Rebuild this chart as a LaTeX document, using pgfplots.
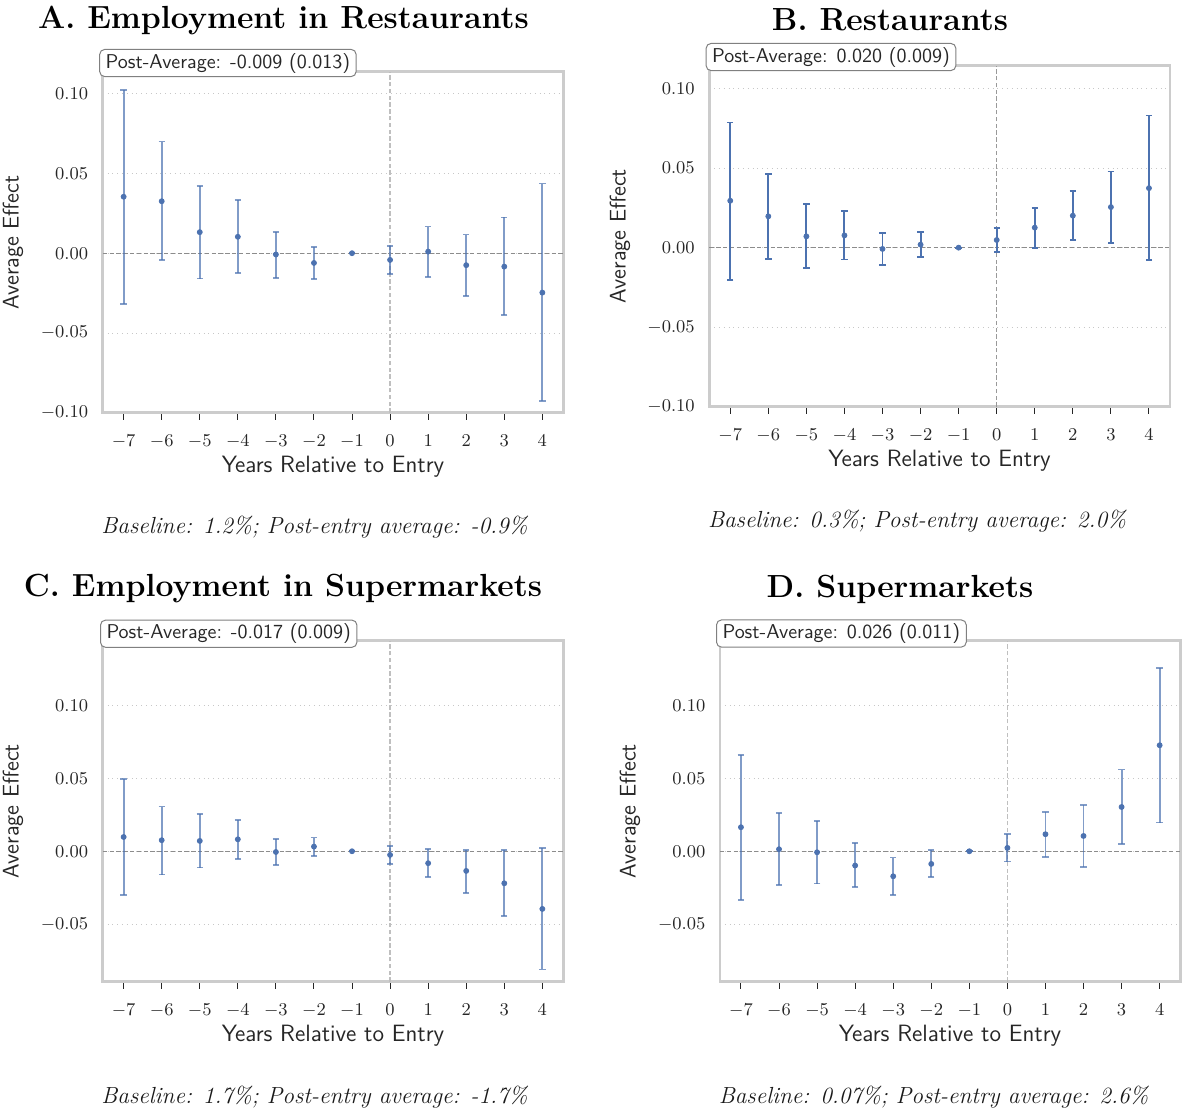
\documentclass[border=0pt]{standalone}
\usepackage{fontspec}
\usepackage{pgfplots}
\usepackage{pgfplotstable}
\pgfplotsset{compat=1.18}
\definecolor{bl}{HTML}{4C72B0}
\definecolor{txt}{HTML}{262626}

\pgfplotstableread{
x y hi lo
-7 0.0354 0.1025 -0.0320
-6 0.0326 0.0700 -0.0044
-5 0.0132 0.0423 -0.0159
-4 0.0103 0.0333 -0.0126
-3 -0.0008 0.0134 -0.0153
-2 -0.0061 0.0040 -0.0161
-1 0 0 0
0 -0.0042 0.0046 -0.0130
1 0.0010 0.0167 -0.0149
2 -0.0075 0.0117 -0.0268
3 -0.0084 0.0224 -0.0389
4 -0.0247 0.0437 -0.0929
}\tabA
\pgfplotstableread{
x y hi lo
-7 0.0295 0.0787 -0.0201
-6 0.0197 0.0462 -0.0069
-5 0.0071 0.0272 -0.0130
-4 0.0077 0.0232 -0.0075
-3 -0.0008 0.0092 -0.0111
-2 0.0019 0.0096 -0.0059
-1 0 0 0
0 0.0048 0.0123 -0.0027
1 0.0126 0.0251 0.0000
2 0.0201 0.0356 0.0048
3 0.0255 0.0479 0.0031
4 0.0374 0.0831 -0.0079
}\tabB
\pgfplotstableread{
x y hi lo
-7 0.0098 0.0497 -0.0302
-6 0.0076 0.0307 -0.0160
-5 0.0071 0.0254 -0.0112
-4 0.0082 0.0217 -0.0055
-3 -0.0005 0.0082 -0.0094
-2 0.0032 0.0094 -0.0030
-1 0 0 0
0 -0.0025 0.0034 -0.0087
1 -0.0082 0.0014 -0.0178
2 -0.0135 0.0011 -0.0284
3 -0.0220 0.0007 -0.0446
4 -0.0396 0.0021 -0.0812
}\tabC
\pgfplotstableread{
x y hi lo
-7 0.0165 0.0661 -0.0334
-6 0.0014 0.0261 -0.0231
-5 -0.0007 0.0208 -0.0222
-4 -0.0098 0.0055 -0.0247
-3 -0.0172 -0.0043 -0.0300
-2 -0.0087 0.0007 -0.0176
-1 0 0 0
0 0.0023 0.0119 -0.0071
1 0.0117 0.0270 -0.0039
2 0.0105 0.0320 -0.0108
3 0.0304 0.0561 0.0048
4 0.0728 0.1259 0.0197
}\tabD

\pgfplotsset{
  panel/.style={
    scale only axis, width=230.3pt, height=170.5pt,
    xmin=-7.55, xmax=4.55, xtick={-7,-6,...,4},
    tick pos=left, xtick align=outside, ytick align=inside,
    major tick length=3.5pt,
    ytick style={draw=none},
    xtick style={color=txt, line width=0.5pt},
    axis line style={color=black!20, line width=1.3pt},
    ymajorgrids, major grid style={dotted, black!22, line width=0.4pt},
    ticklabel style={font=\fontsize{9.4}{11}\selectfont, color=txt},
    yticklabel style={/pgf/number format/fixed, /pgf/number format/fixed zerofill, /pgf/number format/precision=2, xshift=-3.8pt},
    xticklabel style={yshift=-4pt},
    scaled y ticks=false,
    clip=false,
  },
  ebar/.style={
    only marks, mark=*, mark size=1.25pt, color=bl,
    mark options={fill=bl, draw=bl},
    error bars/.cd, y dir=both, y explicit,
    error bar style={line width=0.95pt, color=bl, opacity=#1},
    error mark options={line width=0.9pt, color=bl, mark size=1.6pt, opacity=#1, rotate=90},
  },
}
\tikzset{
  ttl/.style={font=\fontsize{16}{19}\selectfont\bfseries, text=black, inner sep=0pt},
  pbox/.style={draw=black!50, rounded corners=2.5pt, fill=white, line width=0.5pt, inner xsep=3pt, inner ysep=2pt, anchor=west, font=\sffamily\fontsize{10}{12}\selectfont, text=txt, text height=7.3pt, text depth=2.3pt},
  ylab/.style={rotate=90, font=\sffamily\fontsize{11.3}{13}\selectfont, text=txt, inner sep=0pt},
  xlab/.style={font=\sffamily\fontsize{11.8}{14}\selectfont, text=txt, inner sep=0pt},
  capt/.style={anchor=west, font=\itshape\fontsize{11.65}{13}\selectfont, text=black!90, inner sep=0pt},
}

\begin{document}
\begin{tikzpicture}
\useasboundingbox (0pt,0pt) rectangle (591pt,-554pt);

% Panel A
\begin{axis}[panel, at={(51.35pt,-206.35pt)}, anchor=south west, ymin=-0.1, ymax=0.1138, ytick={-0.1,-0.05,0,0.05,0.1}]
\draw[dash pattern=on 2.2pt off 1.2pt, black!45, line width=0.5pt] (axis cs:-7.55,0) -- (axis cs:4.55,0);
\draw[dash pattern=on 2.2pt off 1.2pt, black!25, line width=0.6pt] (axis cs:0,-0.1) -- (axis cs:0,0.1138);
\addplot[ebar=0.7] table[x=x, y=y, y error plus expr=\thisrow{hi}-\thisrow{y}, y error minus expr=\thisrow{y}-\thisrow{lo}] {\tabA};
\end{axis}

% Panel B
\begin{axis}[panel, at={(354.65pt,-203.35pt)}, anchor=south west, ymin=-0.1, ymax=0.1144, ytick={-0.1,-0.05,0,0.05,0.1}]
\draw[dash pattern=on 2.2pt off 1.2pt, black!45, line width=0.5pt] (axis cs:-7.55,0) -- (axis cs:4.55,0);
\draw[dash pattern=on 2.2pt off 1.2pt, black!40, line width=0.5pt] (axis cs:0,-0.1) -- (axis cs:0,0.1144);
\addplot[ebar=1] table[x=x, y=y, y error plus expr=\thisrow{hi}-\thisrow{y}, y error minus expr=\thisrow{y}-\thisrow{lo}] {\tabB};
\end{axis}

% Panel C
\begin{axis}[panel, at={(51.35pt,-490.85pt)}, anchor=south west, ymin=-0.0896, ymax=0.1446, ytick={-0.05,0,0.05,0.1}]
\draw[dash pattern=on 2.2pt off 1.2pt, black!45, line width=0.5pt] (axis cs:-7.55,0) -- (axis cs:4.55,0);
\draw[dash pattern=on 2.2pt off 1.2pt, black!25, line width=0.6pt] (axis cs:0,-0.0896) -- (axis cs:0,0.1446);
\addplot[ebar=0.7] table[x=x, y=y, y error plus expr=\thisrow{hi}-\thisrow{y}, y error minus expr=\thisrow{y}-\thisrow{lo}] {\tabC};
\end{axis}

% Panel D
\begin{axis}[panel, at={(360pt,-490.85pt)}, anchor=south west, ymin=-0.0896, ymax=0.1446, ytick={-0.05,0,0.05,0.1}]
\draw[dash pattern=on 2.2pt off 1.2pt, black!45, line width=0.5pt] (axis cs:-7.55,0) -- (axis cs:4.55,0);
\draw[dash pattern=on 2.2pt off 1.2pt, black!25, line width=0.6pt] (axis cs:0,-0.0896) -- (axis cs:0,0.1446);
\addplot[ebar=0.7] table[x=x, y=y, y error plus expr=\thisrow{hi}-\thisrow{y}, y error minus expr=\thisrow{y}-\thisrow{lo}] {\tabD};
\end{axis}

% Titles
\node[ttl] at (141.75pt,-10pt) {A. Employment in Restaurants};
\node[ttl] at (445pt,-10pt) {B. Restaurants};
\node[ttl] at (141.5pt,-294.5pt) {C. Employment in Supermarkets};
\node[ttl] at (450pt,-294.5pt) {D. Supermarkets};

% Post-average boxes
\node[pbox] at (49.6pt,-31.5pt) {Post-Average: -0.009 (0.013)};
\node[pbox] at (352.8pt,-28.5pt) {Post-Average: 0.020 (0.009)};
\node[pbox] at (50pt,-316.85pt) {Post-Average: -0.017 (0.009)};
\node[pbox] at (358pt,-316.75pt) {Post-Average: 0.026 (0.011)};

% y labels
\node[ylab] at (6.5pt,-121.35pt) {Average Effect};
\node[ylab] at (310pt,-118.1pt) {Average Effect};
\node[ylab] at (6.5pt,-405.6pt) {Average Effect};
\node[ylab] at (315pt,-405.6pt) {Average Effect};

% x labels
\node[xlab] at (166.5pt,-233.35pt) {Years Relative to Entry};
\node[xlab] at (469.75pt,-230.35pt) {Years Relative to Entry};
\node[xlab] at (166.5pt,-517.85pt) {Years Relative to Entry};
\node[xlab] at (475pt,-517.85pt) {Years Relative to Entry};

% captions
\node[capt] at (50.5pt,-263.35pt) {Baseline: 1.2\%; Post-entry average: -0.9\%};
\node[capt] at (353.8pt,-260.35pt) {Baseline: 0.3\%; Post-entry average: 2.0\%};
\node[capt] at (50.5pt,-548.35pt) {Baseline: 1.7\%; Post-entry average: -1.7\%};
\node[capt] at (359.2pt,-548.35pt) {Baseline: 0.07\%; Post-entry average: 2.6\%};
\end{tikzpicture}
\end{document}
